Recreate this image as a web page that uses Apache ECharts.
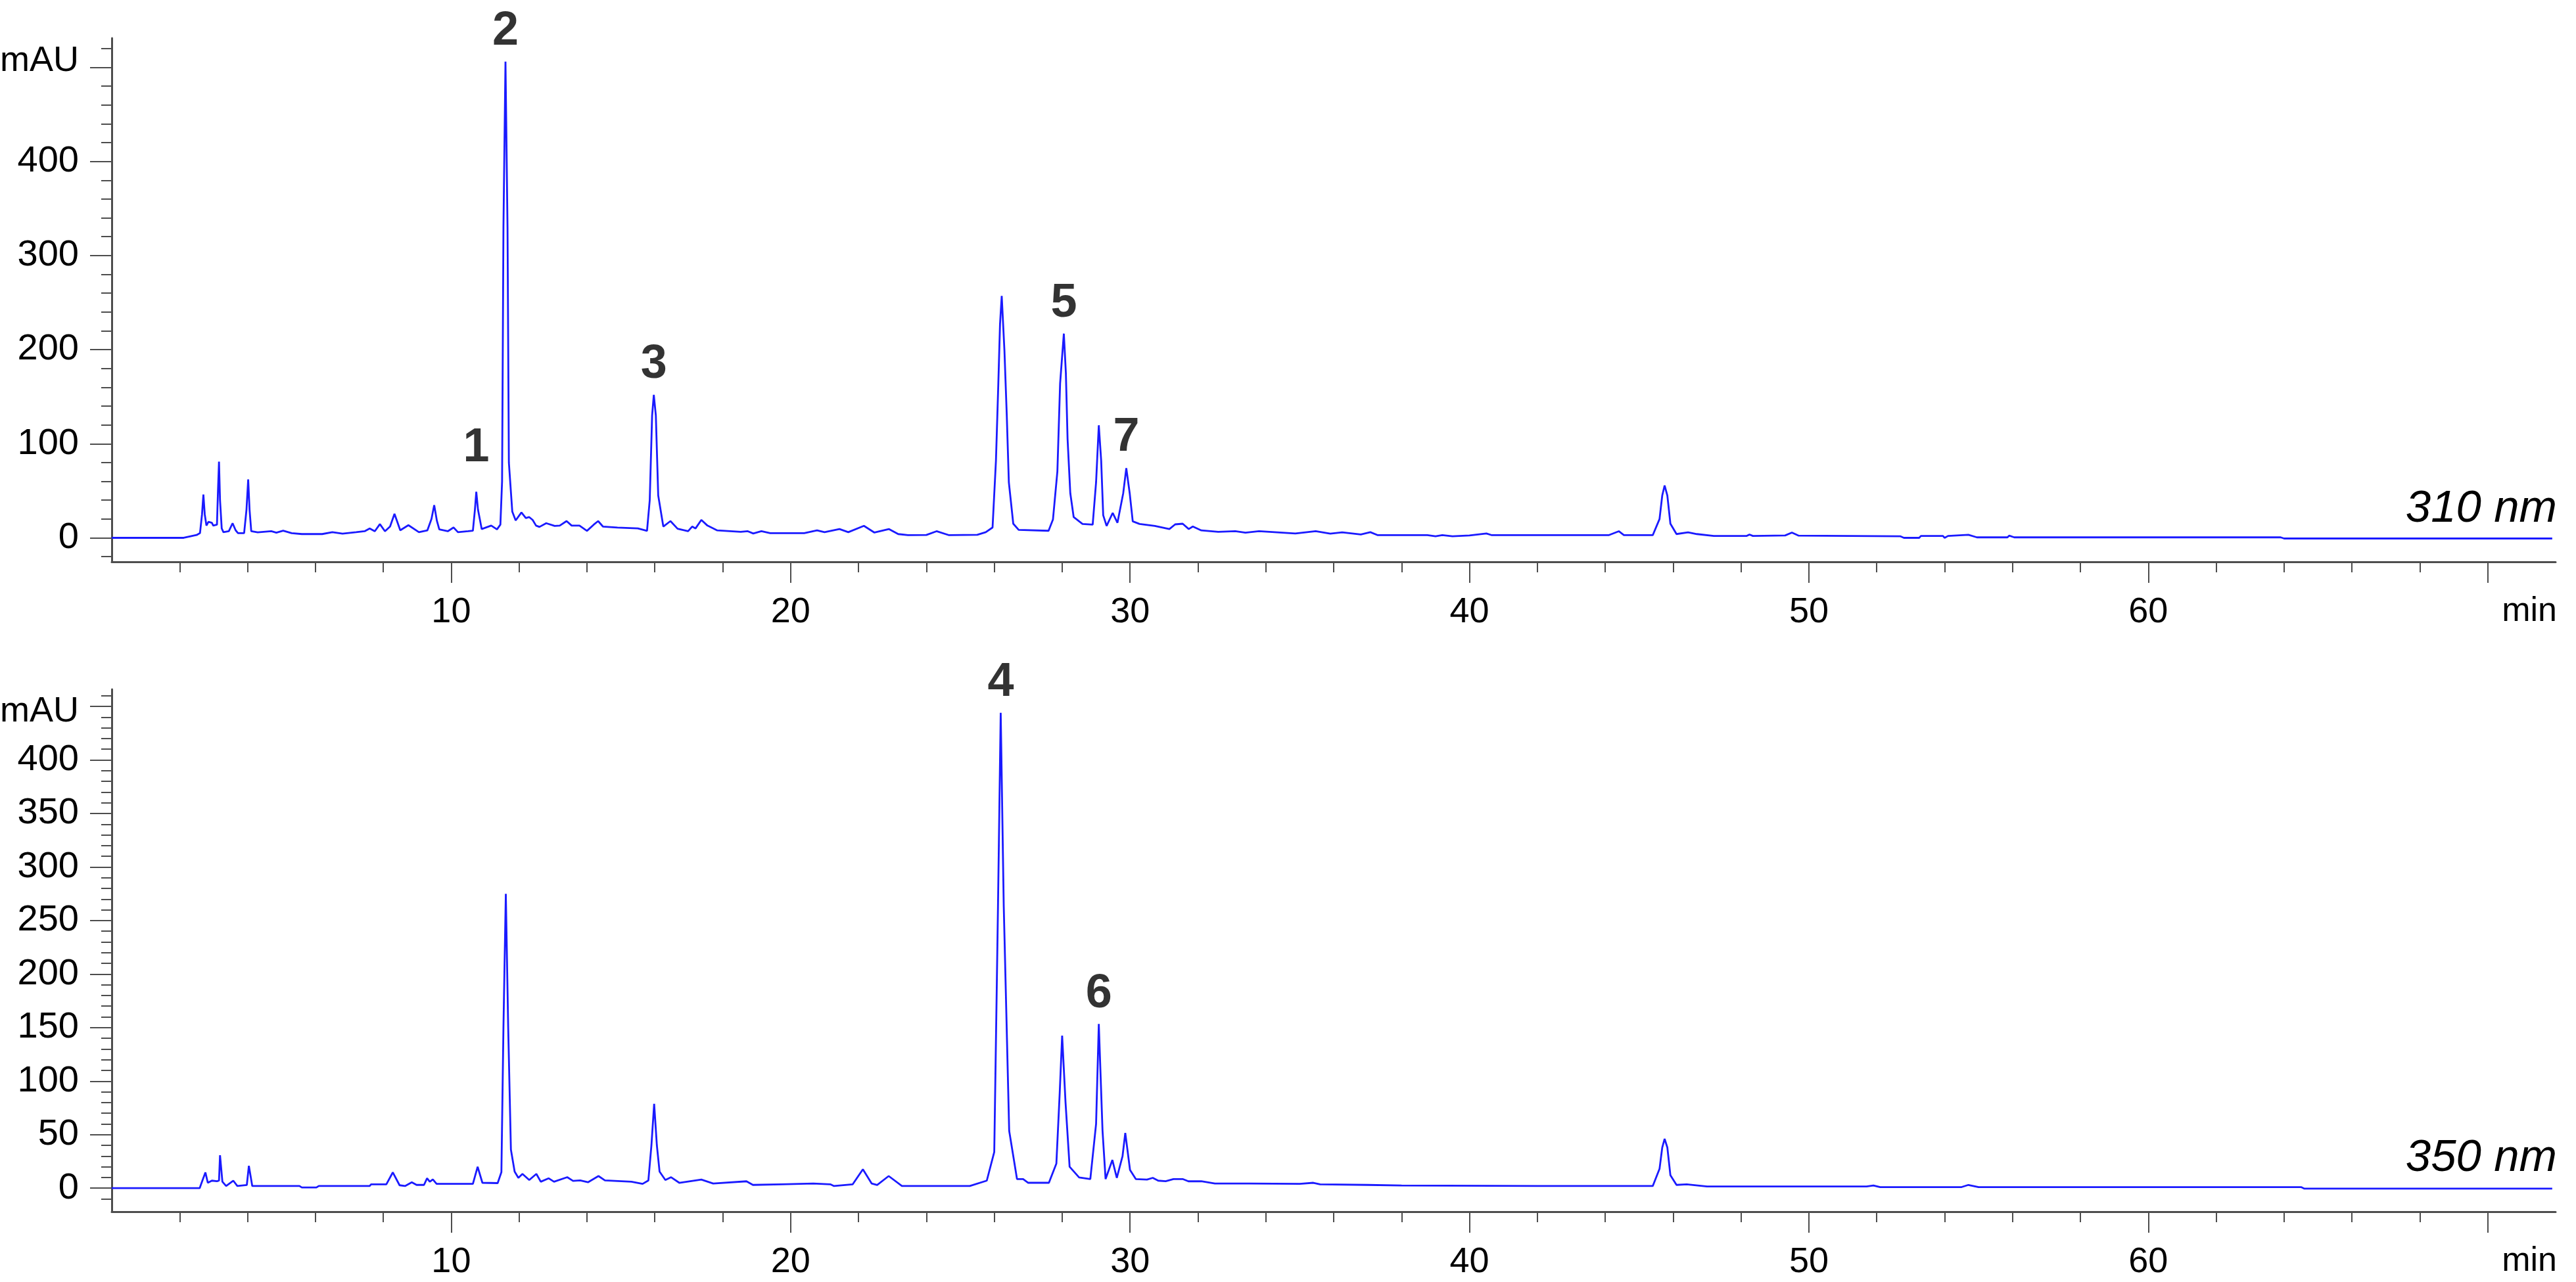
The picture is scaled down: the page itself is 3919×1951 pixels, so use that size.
<!DOCTYPE html>
<html>
<head>
<meta charset="utf-8">
<script src="https://cdn.jsdelivr.net/npm/echarts@6/dist/echarts.min.js"></script>
<style>
  html, body { margin: 0; padding: 0; background: #fff; }
  #chart { width: 3919px; height: 1951px; }
</style>
</head>
<body>
<div id="chart"></div>
<script>
// 310 nm trace: [min, mAU]
const trace310 = [
  [0,0],[2.12,0],[2.3,1.5],[2.5,3],[2.6,5],
  [2.66,25],[2.7,46],[2.74,25],[2.79,13],[2.85,17],[2.95,16],[2.99,13],
  [3.1,14],[3.13,50],[3.16,81],[3.19,40],[3.24,10],[3.29,6],
  [3.45,7],[3.56,15.5],[3.65,8],[3.72,5],[3.9,5],[3.97,30],[4.02,62],[4.06,30],[4.11,7],[4.3,5.8],
  [4.7,7],[4.85,5.5],[5.05,7.6],[5.3,5],[5.6,4],[6.2,4],[6.5,6],[6.8,4.5],[7.2,6],[7.45,7],[7.6,10],
  [7.75,7],[7.9,14.6],[8.05,7],[8.2,12],[8.33,25.5],[8.5,8],[8.74,13.4],[9.05,6],[9.3,8],[9.42,20],
  [9.5,34.7],[9.58,18],[9.65,9],[9.9,7],[10.07,11],[10.2,6],[10.5,7],[10.64,7.6],[10.7,30],[10.74,49],
  [10.79,30],[10.9,9.3],[11.18,13],[11.35,9],[11.45,14],[11.5,60],[11.54,330],[11.6,506],[11.66,330],
  [11.7,80],[11.8,28],[11.9,18.5],[12.07,27],[12.2,21],[12.3,22],[12.4,19],[12.5,13],[12.6,11.6],
  [12.8,15.5],[13.05,12.7],[13.2,13],[13.4,17.8],[13.55,13],[13.78,13],[14.0,7.4],[14.2,14],[14.33,17.8],
  [14.47,12],[14.9,10.9],[15.5,10],[15.77,7.4],[15.85,40],[15.92,130],[15.97,152],[16.03,130],[16.1,45],
  [16.25,12],[16.46,17.8],[16.67,9.7],[16.98,7],[17.1,12],[17.2,10],[17.37,19],[17.55,13],[17.84,7.9],
  [18.53,6.3],[18.74,7],[18.9,4.6],[19.14,7],[19.4,5],[20.4,5],[20.78,8],[21.0,6],[21.44,9.3],[21.7,6],
  [22.16,12.7],[22.47,5.6],[22.9,9.3],[23.17,4],[23.46,2.8],[24.0,3],[24.3,7],[24.67,2.8],[25.5,3.2],
  [25.75,6],[25.95,11],[26.05,82],[26.12,164],[26.17,227],[26.22,257],[26.3,199],[26.37,129],[26.43,59],
  [26.56,15],[26.72,8.4],[27.6,7.5],[27.73,19.6],[27.86,70.6],[27.94,164],[28.05,217],[28.11,175],
  [28.16,105],[28.24,47.5],[28.34,22],[28.6,14.7],[28.9,14],[29.0,59],[29.08,119.6],[29.15,82],[29.21,24],
  [29.31,12.6],[29.49,26.5],[29.63,16],[29.8,47.5],[29.89,74],[29.99,47.5],[30.08,17.5],[30.28,14.7],
  [30.73,12.7],[31.16,9.3],[31.33,14.3],[31.55,15],[31.73,9.3],[31.85,12],[32.1,7.9],[32.6,6.3],[33.1,7],
  [33.4,5.5],[33.8,7],[34.87,4.6],[35.47,7],[35.9,4.5],[36.25,5.8],[36.8,3.5],[37.08,6],[37.3,2.8],
  [38.76,2.8],[39.0,1.6],[39.2,2.8],[39.5,1.6],[40.0,2.5],[40.5,4.6],[40.66,2.8],[44.1,2.8],[44.4,7],
  [44.55,2.8],[45.4,2.8],[45.6,20],[45.68,45],[45.75,55.6],[45.83,45],[45.92,15],[46.1,4],[46.44,5.8],
  [46.7,4],[47.2,2],[48.17,2],[48.25,3.5],[48.35,2],[49.3,2.5],[49.5,5.6],[49.7,2.3],[52.7,1.6],[52.8,0],
  [53.25,0],[53.3,2],[53.95,2],[54.0,0],[54.1,2],[54.7,3.2],[54.95,0.5],[55.85,0.5],[55.9,2.3],[56.05,0.5],
  [63.9,0.5],[64.0,-0.7],[71.9,-0.7]
]

// 350 nm trace: [min, mAU]
const trace350 = [
  [0,0],[2.59,0],[2.67,7],[2.76,14.7],[2.83,5],[2.95,7],[3.1,6.5],[3.16,7],[3.19,30.7],[3.26,6],[3.37,2],
  [3.58,7],[3.7,2],[3.98,3],[4.04,20.9],[4.14,2],[5.53,2],[5.6,0.6],[6.03,0.6],[6.1,2],[7.6,2],[7.64,3.5],
  [8.09,3.5],[8.28,14.7],[8.48,2.7],[8.64,2],[8.84,5.5],[8.98,3],[9.2,3],[9.29,9.2],[9.37,6],[9.46,8.2],
  [9.57,4],[10.64,4],[10.78,19.9],[10.92,5],[11.37,4.7],[11.48,15],[11.54,150],[11.61,275],[11.68,150],
  [11.76,36],[11.87,15.4],[11.98,9.6],[12.1,13.3],[12.3,7.6],[12.51,13.3],[12.64,6],[12.87,9.2],[13.03,6],
  [13.42,10.2],[13.59,6.8],[13.8,7.2],[14.03,5.5],[14.34,11.3],[14.53,7.2],[15.31,6],[15.64,4],[15.81,7.2],
  [15.9,40],[15.98,78.8],[16.06,40],[16.14,15.4],[16.31,7.6],[16.48,10.2],[16.72,5],[17.37,8],[17.72,4.3],
  [18.7,6.4],[18.89,3],[19.72,3.6],[20.67,4.3],[21.17,3.6],[21.28,2],[21.83,3.6],[22.13,17.6],[22.39,4.3],
  [22.55,3],[22.89,11.3],[23.28,2],[25.28,2],[25.78,7],[26.0,33.8],[26.11,263],[26.19,444],[26.28,263],
  [26.44,53.5],[26.67,8.5],[26.85,8.5],[27.0,5],[27.61,5],[27.83,23],[27.93,90],[28.0,142.4],[28.1,80],
  [28.22,20],[28.5,10],[28.83,8.5],[29.0,60],[29.08,153.4],[29.19,53.5],[29.28,8.5],[29.48,26.3],[29.61,9.6],
  [29.78,30],[29.86,51.6],[30.0,17],[30.17,8.5],[30.5,8],[30.67,9.6],[30.83,7],[31.05,6.5],[31.28,8.5],
  [31.55,8.5],[31.72,6.4],[32.1,6.4],[32.5,4.3],[33.5,4.3],[35.0,4],[35.4,5],[35.6,3.5],[37,3],[38,2.5],
  [42,2],[44.5,2],[45.4,2],[45.6,18],[45.68,38],[45.75,46],[45.83,38],[45.92,12],[46.1,3],[46.4,3.5],
  [47,1.5],[51.7,1.5],[51.9,2.5],[52.1,1],[54.5,1],[54.7,3],[55,1],[64.5,1],[64.6,-0.5],[71.9,-0.5]
]

// numbered peaks: [min, mAU, label]
const peaks310 = [[10.74, 49, '1'], [11.6, 506, '2'], [15.97, 152, '3'], [28.05, 217, '5'], [29.89, 74, '7']]
const peaks350 = [[26.19, 444, '4'], [29.08, 153, '6']]

// axis ticks
const xMajorTicks = [10, 20, 30, 40, 50, 60, 70]
const xMinorTicks = [2, 4, 6, 8, 12, 14, 16, 18, 22, 24, 26, 28, 32, 34, 36, 38, 42, 44, 46, 48,
  52, 54, 56, 58, 62, 64, 66, 68]
const xTickLabels = [10, 20, 30, 40, 50, 60]

const yMajor310 = [0, 100, 200, 300, 400, 500]
const yMinor310 = [-20, 20, 40, 60, 80, 120, 140, 160, 180, 220, 240, 260, 280, 320, 340, 360, 380,
  420, 440, 460, 480, 520]
const yLabels310 = [0, 100, 200, 300, 400]

const yMajor350 = [0, 50, 100, 150, 200, 250, 300, 350, 400, 450]
const yMinor350 = [-10, 10, 20, 30, 40, 60, 70, 80, 90, 110, 120, 130, 140, 160, 170, 180, 190,
  210, 220, 230, 240, 260, 270, 280, 290, 310, 320, 330, 340, 360, 370, 380, 390, 410, 420, 430, 440, 460]
const yLabels350 = [0, 50, 100, 150, 200, 250, 300, 350, 400]

const FONT = '"Liberation Sans", Arial, sans-serif'
const AXIS_COLOR = '#4d4d4d'
const LINE_COLOR = '#1a1aff'

// panel layout (pixels)
const panels = [
  { top: 58, height: 797, yMin: -25.5, yMax: 531, major: yMajor310, minor: yMinor310, labels: yLabels310,
    trace: trace310, peaks: peaks310, wl: '310 nm', unitTop: 66, wlTop: 740 },
  { top: 1049, height: 795, yMin: -22, yMax: 466, major: yMajor350, minor: yMinor350, labels: yLabels350,
    trace: trace350, peaks: peaks350, wl: '350 nm', unitTop: 1056, wlTop: 1728 }
]
const LEFT = 170
const WIDTH = 3718

const chart = echarts.init(document.getElementById('chart'))

const grid = [], xAxis = [], yAxis = [], series = [], graphic = []

panels.forEach((p, i) => {
  grid.push({ left: LEFT, top: p.top, width: WIDTH, height: p.height, containLabel: false })

  const xBase = { type: 'value', gridIndex: i, min: 0, max: 72, position: 'bottom', splitLine: { show: false } }
  // major ticks + labels
  xAxis.push(Object.assign({}, xBase, {
    axisLine: { show: true, onZero: false, lineStyle: { color: AXIS_COLOR, width: 3 } },
    axisTick: { show: true, customValues: xMajorTicks, length: 32, lineStyle: { color: AXIS_COLOR, width: 2 } },
    axisLabel: { show: true, customValues: xTickLabels, margin: 50, color: '#000', fontSize: 54, fontFamily: FONT }
  }))
  // minor ticks
  xAxis.push(Object.assign({}, xBase, {
    axisLine: { show: false, onZero: false },
    axisTick: { show: true, customValues: xMinorTicks, length: 16, lineStyle: { color: AXIS_COLOR, width: 2 } },
    axisLabel: { show: false }
  }))

  const yBase = { type: 'value', gridIndex: i, min: p.yMin, max: p.yMax, position: 'left', splitLine: { show: false } }
  yAxis.push(Object.assign({}, yBase, {
    axisLine: { show: true, onZero: false, lineStyle: { color: AXIS_COLOR, width: 3 } },
    axisTick: { show: true, customValues: p.major, length: 33, lineStyle: { color: AXIS_COLOR, width: 2 } },
    axisLabel: {
      show: true, customValues: p.labels, margin: 50,
      align: 'right',
      // fixed-width box so every number lines up on its right edge
      formatter: v => '{n|' + v + '}',
      rich: { n: { width: 110, align: 'right', color: '#000', fontSize: 56, fontFamily: FONT } }
    }
  }))
  yAxis.push(Object.assign({}, yBase, {
    axisLine: { show: false, onZero: false },
    axisTick: { show: true, customValues: p.minor, length: 16, lineStyle: { color: AXIS_COLOR, width: 2 } },
    axisLabel: { show: false }
  }))

  series.push({
    type: 'line',
    xAxisIndex: i * 2,
    yAxisIndex: i * 2,
    data: p.trace,
    showSymbol: false,
    lineStyle: { color: LINE_COLOR, width: 2.8 },
    silent: true
  })

  series.push({
    type: 'scatter',
    xAxisIndex: i * 2,
    yAxisIndex: i * 2,
    data: p.peaks.map(d => ({
      value: [d[0], d[1]],
      name: d[2],
      // peak 1 sits a little higher above its apex
      label: d[2] === '1' ? { distance: 30 } : undefined
    })),
    symbolSize: 0,
    label: {
      show: true,
      position: 'top',
      distance: 10,
      formatter: '{b}',
      color: '#000',
      fontSize: 72,
      fontWeight: 'bold',
      fontFamily: FONT
    },
    silent: true
  })

  // y-axis unit
  graphic.push({
    type: 'text',
    right: 3919 - 120,
    top: p.unitTop,
    style: { text: 'mAU', fontSize: 54, fontFamily: FONT, fill: '#000' }
  })
  // wavelength tag
  graphic.push({
    type: 'text',
    right: 3919 - 3890,
    top: p.wlTop,
    style: { text: p.wl, fontSize: 69, fontStyle: 'italic', fontFamily: FONT, fill: '#000' }
  })
  // x-axis unit
  graphic.push({
    type: 'text',
    right: 3919 - 3890,
    top: p.top + p.height + 50,
    style: { text: 'min', fontSize: 52, fontFamily: FONT, fill: '#000' }
  })
})

chart.setOption({
  animation: false,
  backgroundColor: '#fff',
  grid,
  xAxis,
  yAxis,
  series,
  graphic
})
</script>
</body>
</html>
